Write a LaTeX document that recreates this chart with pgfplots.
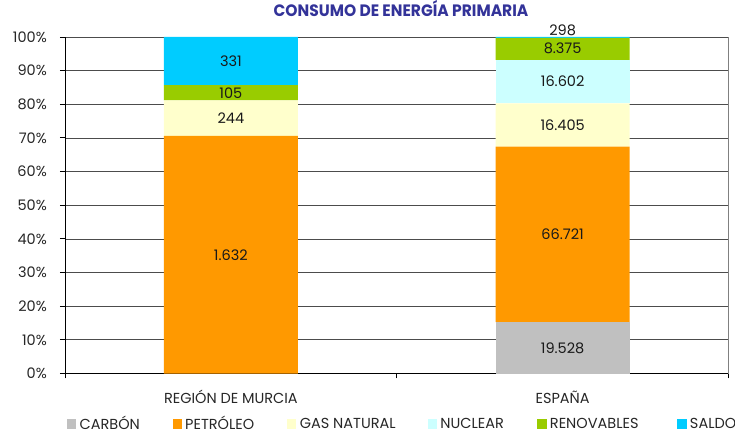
\documentclass[border=0pt]{standalone}
\usepackage{fontspec}
\setmainfont{Poppins}
\usepackage{graphicx}
\usepackage{pgfplots}
\pgfplotsset{compat=1.18}
\definecolor{ccarbon}{HTML}{C0C0C0}
\definecolor{cpetro}{HTML}{FF9900}
\definecolor{cgas}{HTML}{FFFFCC}
\definecolor{cnuc}{HTML}{CCFFFF}
\definecolor{cren}{HTML}{99CC00}
\definecolor{csaldo}{HTML}{00CCFF}
\definecolor{ctitle}{HTML}{333399}
\begin{document}
\fontsize{14.5bp}{17bp}\selectfont
\begin{tikzpicture}
\path[use as bounding box] (0,0) rectangle (735bp,434bp);
\pgfplotsset{base/.style={scale only axis, width=663.5bp, height=336.5bp,
  xmin=-0.5, xmax=1.5, ymin=0, ymax=100, at={(65bp,60.5bp)}, anchor=south west}}
\begin{axis}[base, ybar stacked, bar width=134bp,
  axis x line*=bottom, axis y line*=left,
  axis line style={black, line width=0.9bp},
  ymajorgrids, grid style={black!70, line width=0.75bp},
  ytick={0,10,...,100},
  yticklabels={0\%,10\%,20\%,30\%,40\%,50\%,60\%,70\%,80\%,90\%,100\%},
  yticklabel style={anchor=east, inner sep=0pt, xshift=-13bp, text=black!85},
  xtick={-0.5,0.5,1.5}, xticklabels={},
  extra x ticks={0,1}, extra x tick labels={REGIÓN DE MURCIA, ESPAÑA},
  extra x tick style={major tick length=0pt, xticklabel style={anchor=base, inner sep=0pt, yshift=-29.5bp, text=black!85}},
  tick align=outside, major tick length=5bp, tick style={black, line width=0.9bp},
  title={\scalebox{0.94}[1]{CONSUMO DE ENERGÍA PRIMARIA}},
  title style={font=\bfseries\fontsize{16.5bp}{18bp}\selectfont, text=ctitle, at={(axis description cs:0.5064,1)}, anchor=base, yshift=14.3bp, inner sep=0pt},
  legend columns=6,
  legend style={draw=none, fill=none, inner sep=0pt, outer sep=0pt,
    at={(axis description cs:0.003,-0.150)}, anchor=west,
    nodes={inner sep=0pt, text=black!85},
    /tikz/every odd column/.append style={column sep=3.3bp},
    /tikz/every even column/.append style={column sep=0pt}},
  legend image code/.code={\fill[#1] (0bp,-5bp) rectangle (9.3bp,5bp);},
  after end axis/.code={\draw[black!50, line width=0.9bp] (rel axis cs:1,0) -- (rel axis cs:1,1);},
]
\addplot[draw=none, fill=ccarbon] coordinates {(0,0) (1,15.2647)};
\addlegendentry{\makebox[93bp][l]{CARBÓN}}
\addplot[draw=none, fill=cpetro] coordinates {(0,70.5882) (1,52.1547)};
\addlegendentry{\makebox[102bp][l]{PETRÓLEO}}
\addplot[draw=none, fill=cgas] coordinates {(0,10.5536) (1,12.8235)};
\addlegendentry{\makebox[128bp][l]{GAS NATURAL}}
\addplot[draw=none, fill=cnuc] coordinates {(0,0) (1,12.9775)};
\addlegendentry{\makebox[97bp][l]{NUCLEAR}}
\addplot[draw=none, fill=cren] coordinates {(0,4.5415) (1,6.5466)};
\addlegendentry{\makebox[127.4bp][l]{RENOVABLES}}
\addplot[draw=none, fill=csaldo] coordinates {(0,14.3166) (1,0.2329)};
\addlegendentry{\makebox[40bp][l]{SALDO}}
\end{axis}
\begin{axis}[base, hide axis, clip=false]
\addplot[draw=none, nodes near coords, point meta=explicit symbolic,
  nodes near coords align={center},
  every node near coord/.append style={inner sep=0pt, text=black!90}]
  coordinates {
  (0,35.294) [1.632]
  (0,75.865) [244]
  (0,83.413) [105]
  (0,92.842) [331]
  (1,7.632) [19.528]
  (1,41.342) [66.721]
  (1,73.831) [16.405]
  (1,86.732) [16.602]
  (1,96.494) [8.375]
  (1,102.08) [298]
  };
\end{axis}
\end{tikzpicture}
\end{document}
